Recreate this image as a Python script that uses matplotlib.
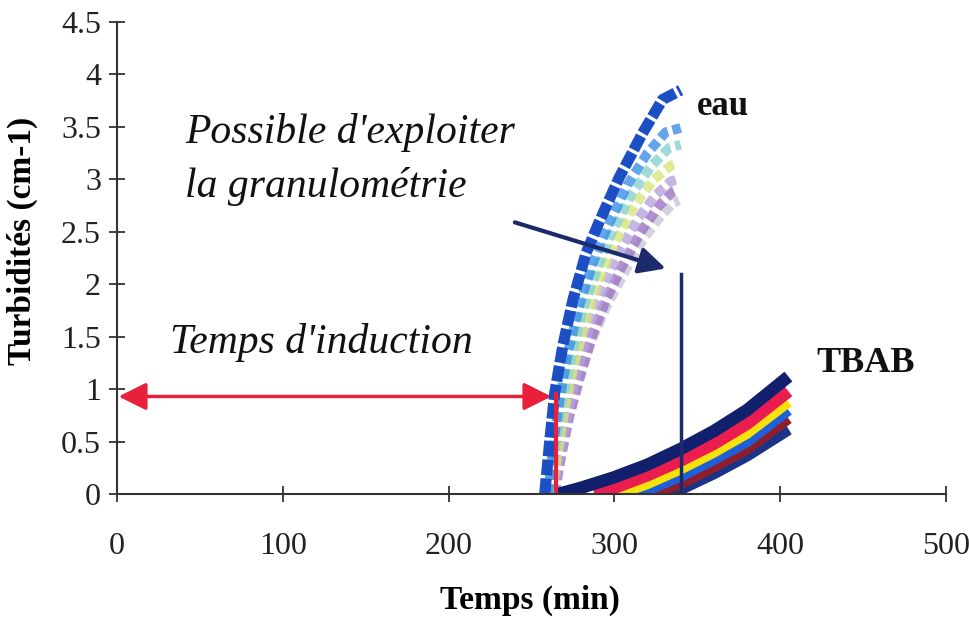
import matplotlib
matplotlib.use("Agg")
import matplotlib.pyplot as plt

plt.rcParams['font.family'] = ['Liberation Serif', 'DejaVu Serif']

# eau series (temps en min, turbidité en cm-1)
eau1_t = [258, 261, 264, 269, 275, 283, 291, 303, 317, 329, 340]
eau1_y = [0, 0.5, 0.96, 1.42, 1.85, 2.3, 2.6, 3.02, 3.44, 3.76, 3.85]
eau2_t = [260, 263, 267, 272, 279, 287, 296, 308, 320, 331, 340]
eau2_y = [0, 0.45, 0.9, 1.35, 1.8, 2.2, 2.55, 2.95, 3.25, 3.45, 3.49]
eau3_t = [261, 264, 268, 274, 281, 289, 298, 310, 322, 333, 340]
eau3_y = [0, 0.4, 0.85, 1.3, 1.75, 2.12, 2.48, 2.85, 3.12, 3.3, 3.33]
eau4_t = [262, 266, 270, 276, 283, 291, 300, 312, 324, 334, 338]
eau4_y = [0, 0.4, 0.8, 1.25, 1.68, 2.05, 2.38, 2.75, 3.0, 3.13, 3.15]
eau5_t = [263, 267, 272, 278, 285, 293, 302, 314, 325, 334, 338]
eau5_y = [0, 0.38, 0.78, 1.2, 1.6, 1.95, 2.28, 2.62, 2.85, 2.98, 3.0]
eau6_t = [264, 268, 273, 280, 287, 295, 304, 316, 327, 335, 338]
eau6_y = [0, 0.36, 0.75, 1.15, 1.52, 1.85, 2.15, 2.5, 2.75, 2.88, 2.9]
eau7_t = [262, 266, 271, 278, 286, 295, 305, 317, 328, 336, 339]
eau7_y = [0, 0.3, 0.68, 1.08, 1.45, 1.78, 2.08, 2.42, 2.65, 2.78, 2.8]

# TBAB series
tbab1_t = [266, 280, 300, 320, 340, 360, 380, 405]
tbab1_y = [0, 0.06, 0.16, 0.28, 0.43, 0.6, 0.8, 1.12]
tbab2_t = [288, 300, 320, 340, 360, 380, 405]
tbab2_y = [0, 0.06, 0.18, 0.32, 0.48, 0.67, 0.98]
tbab3_t = [302, 320, 340, 360, 380, 405]
tbab3_y = [0, 0.1, 0.24, 0.4, 0.58, 0.88]
tbab4_t = [313, 320, 340, 360, 380, 405]
tbab4_y = [0, 0.04, 0.17, 0.33, 0.5, 0.8]
tbab5_t = [321, 340, 360, 380, 405]
tbab5_y = [0, 0.1, 0.26, 0.43, 0.72]
tbab6_t = [331, 340, 360, 380, 405]
tbab6_y = [0, 0.05, 0.2, 0.37, 0.62]

x_ticks = [0, 100, 200, 300, 400, 500]
y_ticks = [0, 0.5, 1, 1.5, 2, 2.5, 3, 3.5, 4, 4.5]
y_ticklabels = ['0', '0.5', '1', '1.5', '2', '2.5', '3', '3.5', '4', '4.5']

fig = plt.figure(figsize=(9.69, 6.18), dpi=100)
ax = fig.add_axes([0.1207, 0.2006, 0.8555, 0.7638])

# eau curves, lightest first
eau = [
    (eau7_t, eau7_y, '#c9c6d8'),
    (eau6_t, eau6_y, '#9c74c4'),
    (eau5_t, eau5_y, '#b7a3dd'),
    (eau4_t, eau4_y, '#d6e57a'),
    (eau3_t, eau3_y, '#86d2cf'),
    (eau2_t, eau2_y, '#3b8fe6'),
]
for t, y, c in eau:
    ax.plot(t, y, color=c, lw=7, ls=(0, (1.0, 0.5)), alpha=0.8)
ax.plot(eau1_t, eau1_y, color='#1d4fc4', lw=8, ls=(0, (1.4, 0.3)))

tbab = [
    (tbab6_t, tbab6_y, '#1c3488', 9),
    (tbab5_t, tbab5_y, '#8e1e2e', 8),
    (tbab4_t, tbab4_y, '#1f60d8', 8),
    (tbab3_t, tbab3_y, '#f4e20a', 8),
    (tbab2_t, tbab2_y, '#ea1c50', 9),
    (tbab1_t, tbab1_y, '#10206c', 9),
]
for t, y, c, w in tbab:
    ax.plot(t, y, color=c, lw=w, solid_capstyle='butt')

# annotations
red = '#e8203a'
navy = '#1b2a6b'
ax.annotate('', xy=(262, 0.93), xytext=(1, 0.93),
            arrowprops=dict(arrowstyle='<|-|>', color=red, lw=2.5,
                            mutation_scale=42, shrinkA=0, shrinkB=0))
ax.plot([265, 265], [0.03, 0.95], color=red, lw=3)
ax.annotate('', xy=(331, 2.15), xytext=(240, 2.59),
            arrowprops=dict(arrowstyle='-|>', color=navy, lw=3,
                            mutation_scale=40, shrinkA=0, shrinkB=0))
ax.plot([340, 340], [0.02, 2.1], color=navy, lw=2.5)

ax.text(41, 3.35, "Possible d'exploiter", fontsize=30, style='italic', color='#111')
ax.text(41, 2.83, "la granulométrie", fontsize=30, style='italic', color='#111')
ax.text(32, 1.34, "Temps d'induction", fontsize=30, style='italic', color='#111')
ax.text(350, 3.61, 'eau', fontsize=25, fontweight='bold', color='#111')
ax.text(422, 1.16, 'TBAB', fontsize=26, fontweight='bold', color='#111')

ax.set_xlim(0, 500)
ax.set_ylim(0, 4.5)
ax.set_xticks(x_ticks)
ax.set_yticks(y_ticks)
ax.set_yticklabels(y_ticklabels)
for s in ['top', 'right']:
    ax.spines[s].set_visible(False)
for s in ['left', 'bottom']:
    ax.spines[s].set_color('#333')
    ax.spines[s].set_linewidth(1.5)
ax.tick_params(axis='both', direction='inout', length=11, width=1.3, color='#333',
               labelsize=23, labelcolor='#222')
ax.tick_params(axis='x', pad=22)
ax.tick_params(axis='y', pad=6)

fig.text(0.547, 0.029, 'Temps (min)', fontsize=24, fontweight='bold', ha='center', va='center')
fig.text(0.023, 0.61, 'Turbidités (cm-1)', fontsize=24, fontweight='bold',
         rotation=90, ha='center', va='center')

fig.savefig('out.png', dpi=100)
